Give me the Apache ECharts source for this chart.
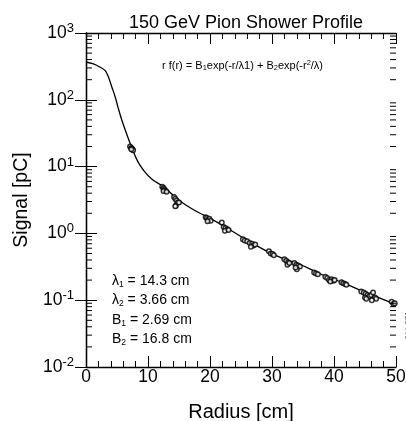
<!DOCTYPE html>
<html><head><meta charset="utf-8">
<script src="https://cdn.jsdelivr.net/npm/echarts@6/dist/echarts.min.js"></script>
<style>html,body{margin:0;padding:0;background:#fff}#c{width:406px;height:421px}</style>
</head><body><div id="c"></div>
<script>
const FONT = '"Liberation Sans", Arial, sans-serif';
const xTicks = [0, 10, 20, 30, 40, 50];
const yTicks = [0.01, 0.1, 1, 10, 100, 1000];
// fitted curve [radius, signal]
const curve = [
  [0, 368], [1.2, 344], [2.3, 307], [3.1, 273], [3.6, 222], [4.15, 157], [4.7, 111],
  [5.2, 75], [5.8, 49], [6.6, 30], [7.4, 19], [8.3, 12.2], [9.25, 8.9], [10.6, 6.5],
  [12.5, 5.0], [14.9, 3.2], [17.2, 2.3], [19.7, 1.74], [22.4, 1.26], [25.6, 0.83],
  [29.7, 0.51], [32.4, 0.40], [34.5, 0.345], [37.2, 0.262], [39.4, 0.215],
  [41.5, 0.182], [45.3, 0.128], [46.9, 0.112], [49.3, 0.091], [50, 0.086]
];
// measured points [radius, signal]
const points = [
  [7.1, 20], [7.3, 19], [7.4, 18.5], [7.5, 18], [7.6, 17.5], [7.3, 18.2],
  [12.3, 5.0], [12.5, 4.8], [12.6, 4.6], [12.8, 4.4], [12.5, 4.3], [13.0, 4.2],
  [14.2, 3.5], [14.4, 3.3], [14.6, 3.1], [14.8, 2.9], [14.5, 2.6], [15.0, 2.9], [14.4, 2.55],
  [19.3, 1.75], [19.5, 1.7], [19.7, 1.6], [19.9, 1.65], [20.1, 1.55], [19.6, 1.52],
  [21.9, 1.45], [22.2, 1.25], [22.5, 1.2], [22.8, 1.15], [22.4, 1.1], [23.0, 1.12],
  [25.3, 0.82], [25.6, 0.78], [26.0, 0.76], [26.4, 0.72], [26.8, 0.70], [27.0, 0.66], [26.6, 0.63], [27.3, 0.68],
  [29.5, 0.54], [29.8, 0.50], [30.1, 0.49], [30.3, 0.47],
  [32.0, 0.41], [32.3, 0.39], [32.6, 0.37], [32.5, 0.34], [32.8, 0.36],
  [33.6, 0.36], [33.9, 0.34], [34.2, 0.33], [34.5, 0.32], [34.0, 0.29], [33.8, 0.31],
  [36.8, 0.26], [37.1, 0.25], [37.4, 0.245],
  [38.6, 0.225], [38.9, 0.215], [39.2, 0.20], [39.6, 0.205], [39.9, 0.195], [39.4, 0.19], [40.1, 0.20],
  [41.2, 0.185], [41.5, 0.18], [41.8, 0.175], [42.0, 0.17],
  [44.4, 0.135], [44.8, 0.13], [45.1, 0.125], [45.4, 0.12], [45.0, 0.11], [45.7, 0.115],
  [46.0, 0.12], [46.3, 0.13], [46.6, 0.11], [46.8, 0.105], [45.2, 0.105], [46.1, 0.1],
  [49.3, 0.095], [49.6, 0.088], [49.8, 0.09]
];
const params = [
  ['λ', '1', ' = 14.3 cm'],
  ['λ', '2', ' = 3.66 cm'],
  ['B', '1', ' = 2.69 cm'],
  ['B', '2', ' = 16.8 cm']
];
const title = '150 GeV Pion Shower Profile';
const xName = 'Radius [cm]';
const yName = 'Signal [pC]';

// log minor tick values 2..9 x 10^k
const minorY = [];
for (let k = 0; k < yTicks.length - 1; k++) {
  for (let m = 2; m <= 9; m++) minorY.push([0, m * yTicks[k]]);
}

const chart = echarts.init(document.getElementById('c'));
const axisLineStyle = { color: '#000', width: 1.3 };
const baseX = {
  type: 'value', min: 0, max: 50, interval: 10,
  axisLine: { show: true, lineStyle: axisLineStyle },
  axisTick: { show: true, inside: true, length: 11, lineStyle: { color: '#000' } },
  minorTick: { show: true, splitNumber: 5, length: 6, lineStyle: { color: '#000' } },
  splitLine: { show: false }
};
const baseY = {
  type: 'log', logBase: 10, min: 0.01, max: 1000,
  axisLine: { show: true, lineStyle: axisLineStyle },
  axisTick: { show: true, inside: true, length: 11, lineStyle: { color: '#000' } },
  splitLine: { show: false }
};
chart.setOption({
  animation: false,
  backgroundColor: '#fff',
  textStyle: { fontFamily: FONT },
  title: {
    text: title, left: 241, top: 9, textAlign: 'center',
    textStyle: { fontFamily: FONT, fontSize: 18, fontWeight: 'normal', color: '#000' }
  },
  grid: { left: 86, right: 10, top: 33, bottom: 54, containLabel: false, outerBoundsMode: 'none' },
  xAxis: [
    Object.assign({}, baseX, {
      position: 'bottom',
      name: xName, nameLocation: 'middle', nameGap: 35,
      nameTextStyle: { fontFamily: FONT, fontSize: 20, color: '#000' },
      axisLabel: { fontFamily: FONT, fontSize: 17.5, color: '#000', margin: 1 }
    }),
    Object.assign({}, baseX, { position: 'top', axisLabel: { show: false } })
  ],
  yAxis: [
    Object.assign({}, baseY, {
      position: 'left',
      name: yName, nameLocation: 'middle', nameGap: 53, nameRotate: 90,
      nameTextStyle: { fontFamily: FONT, fontSize: 19.5, color: '#000' },
      axisLabel: {
        margin: 12, color: '#000',
        formatter: v => '{b|10}{s|' + Math.round(Math.log10(v)) + '}',
        rich: {
          b: { fontFamily: FONT, fontSize: 17.5, color: '#000' },
          s: { fontFamily: FONT, fontSize: 13, color: '#000', padding: [0, 0, 9, 0] }
        }
      }
    }),
    Object.assign({}, baseY, { position: 'right', axisLabel: { show: false } })
  ],
  series: [
    {
      type: 'line', data: curve, smooth: 0.4, showSymbol: false, symbol: 'none',
      lineStyle: { color: '#000', width: 1.3 }, xAxisIndex: 0, yAxisIndex: 0, z: 3
    },
    {
      type: 'scatter', data: points, symbol: 'circle', symbolSize: 4.5,
      itemStyle: { color: '#fff', borderColor: '#000', borderWidth: 1.5 },
      xAxisIndex: 0, yAxisIndex: 0, z: 4
    },
    {
      type: 'custom', data: minorY, xAxisIndex: 0, yAxisIndex: 0, z: 5, silent: true,
      renderItem: (params, api) => {
        const v = api.value(1);
        const p0 = api.coord([0, v]);
        const p1 = api.coord([50, v]);
        const st = { stroke: '#000', lineWidth: 1 };
        return {
          type: 'group', children: [
            { type: 'line', shape: { x1: p0[0], y1: p0[1], x2: p0[0] + 6, y2: p0[1] }, style: st },
            { type: 'line', shape: { x1: p1[0] - 6, y1: p1[1], x2: p1[0], y2: p1[1] }, style: st }
          ]
        };
      }
    }
  ],
  graphic: [
    {
      type: 'text', left: 162, top: 59,
      style: {
        text: '{n|r f(r) = B}{u|1}{n|exp(-r/λ1) + B}{u|2}{n|exp(-r}{p|2}{n|/λ)}',
        rich: {
          n: { fontFamily: FONT, fontSize: 11, fill: '#000' },
          u: { fontFamily: FONT, fontSize: 7.5, fill: '#000', padding: [5, 0, 0, 0] },
          p: { fontFamily: FONT, fontSize: 7.5, fill: '#000', padding: [0, 0, 5, 0] }
        }
      }
    },
    ...params.map((p, i) => ({
      type: 'text', left: 112, top: 274 + i * 19.5,
      style: {
        text: '{n|' + p[0] + '}{u|' + p[1] + '}{n|' + p[2] + '}',
        rich: {
          n: { fontFamily: FONT, fontSize: 14, fill: '#000' },
          u: { fontFamily: FONT, fontSize: 8.5, fill: '#000', padding: [7, 0, 0, 0] }
        }
      }
    })),
    {
      type: 'text', x: 404, y: 340, rotation: Math.PI / 2,
      style: { text: 'J.V. 371', fontFamily: FONT, fontSize: 8, fill: '#555' }
    }
  ]
});
</script>
</body></html>
